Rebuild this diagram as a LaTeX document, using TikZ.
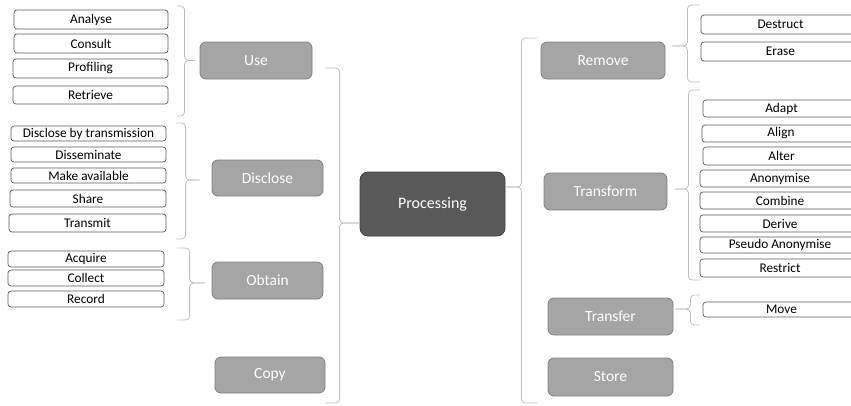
\documentclass[tikz,border=0pt]{standalone}
\usepackage{fontspec}
\setmainfont{Carlito}
\usetikzlibrary{calc}
\definecolor{catfill}{HTML}{A5A5A5}
\definecolor{catline}{HTML}{7F7F7F}
\definecolor{rootfill}{HTML}{595959}
\definecolor{rootline}{HTML}{404040}
\definecolor{leafline}{HTML}{595959}
\definecolor{braceline}{HTML}{BFBFBF}
\tikzset{
  leaf/.style={draw=leafline, fill=white, line width=0.7pt, rounded corners=3pt,
    inner sep=0pt, font=\fontsize{13.3}{15}\selectfont, text=black},
  cat/.style={draw=catline, fill=catfill, line width=0.8pt, rounded corners=6pt,
    inner sep=0pt, font=\fontsize{15.5}{18}\selectfont, text=white},
  root/.style={draw=rootline, fill=rootfill, line width=0.8pt, rounded corners=8pt,
    inner sep=0pt, font=\fontsize{16}{19}\selectfont, text=white},
  grp/.style={draw=braceline, line width=0.8pt, rounded corners=4pt},
}
% box at centre (#2) of size #3 x #4
\newcommand{\bx}[6]{\node[#1, minimum width=#4pt, minimum height=#5pt] (#2) at (#3) {#6};}
\begin{document}
\begin{tikzpicture}[x=1pt, y=-1pt]
\useasboundingbox (0,0) rectangle (851,405);
\clip (0,0) rectangle (851,405);

% central node
\bx{root}{proc}{432.5,204}{145}{64}{Processing}

% left categories
\bx{cat}{use}{256,60.5}{112}{37}{Use}
\bx{cat}{disclose}{267.5,178}{111}{36}{Disclose}
\bx{cat}{obtain}{267.5,280.5}{111}{37}{Obtain}
\bx{cat}{copy}{270,375}{110}{36}{Copy}

% right categories
\bx{cat}{remove}{603,60.5}{124}{37}{Remove}
\bx{cat}{transform}{605.5,191.5}{123}{37}{Transform}
\bx{cat}{transfer}{610.5,316.5}{125}{37}{Transfer}
\bx{cat}{store}{610.5,377}{125}{38}{Store}

% Use
\bx{leaf}{analyse}{91,19.5}{154}{19}{Analyse}
\bx{leaf}{consult}{91,43.5}{154}{19}{Consult}
\bx{leaf}{profiling}{90.5,68.5}{155}{19}{Profiling}
\bx{leaf}{retrieve}{90.5,95}{155}{18}{Retrieve}
% Disclose
\bx{leaf}{disclbt}{88.5,133.5}{155}{15}{Disclose by transmission}
\bx{leaf}{dissem}{88.5,154.5}{155}{15}{Disseminate}
\bx{leaf}{makeav}{88.5,175.5}{155}{15}{Make available}
\bx{leaf}{share}{88,198.5}{156}{17}{Share}
\bx{leaf}{transmit}{87.5,223}{157}{18}{Transmit}
% Obtain
\bx{leaf}{acquire}{86,259}{156}{16}{Acquire}
\bx{leaf}{collect}{86,278}{156}{16}{Collect}
\bx{leaf}{record}{86,299}{156}{16}{Record}

% Remove
\bx{leaf}{destruct}{780.5,24.5}{159}{19}{Destruct}
\bx{leaf}{erase}{780.5,51.5}{159}{19}{Erase}
% Transform
\bx{leaf}{adapt}{781.5,108.5}{157}{17}{Adapt}
\bx{leaf}{align}{781,133.5}{158}{17}{Align}
\bx{leaf}{alter}{781.5,156}{157}{18}{Alter}
\bx{leaf}{anonymise}{780,178.5}{160}{17}{Anonymise}
\bx{leaf}{combine}{780,200.5}{160}{17}{Combine}
\bx{leaf}{derive}{780,223.5}{160}{17}{Derive}
\bx{leaf}{pseudo}{780,245}{160}{16}{Pseudo Anonymise}
\bx{leaf}{restrict}{780,268}{160}{18}{Restrict}
% Transfer
\bx{leaf}{move}{781.5,309.5}{157}{15}{Move}

% group braces, left side (opening towards the leaves)
\draw[grp] ([shift={(-5,0)}]use.west) -- ++(-10,0) |- (177,6);
\draw[grp] ([shift={(-5,0)}]use.west) -- ++(-10,0) |- (177,116);
\draw[grp] ([shift={(-12,2)}]disclose.west) -- ++(-14,0) |- (176,123);
\draw[grp] ([shift={(-12,2)}]disclose.west) -- ++(-14,0) |- (176,239);
\draw[grp] ([shift={(-7,2.5)}]obtain.west) -- ++(-15,0) |- (177,248);
\draw[grp] ([shift={(-7,2.5)}]obtain.west) -- ++(-15,0) |- (177,320);
\draw[grp] ([shift={(0,19)}]proc.west) -- ++(-20,0) |- (325,68);
\draw[grp] ([shift={(0,19)}]proc.west) -- ++(-20,0) |- (325,403);

% group braces, right side
\draw[grp] ([shift={(0,-17)}]proc.east) -- ++(16,0) |- (537,38);
\draw[grp] ([shift={(0,-17)}]proc.east) -- ++(16,0) |- (537,403);
\draw[grp] ([shift={(7,-14.5)}]remove.east) -- ++(15,0) |- (700,5);
\draw[grp] ([shift={(7,-14.5)}]remove.east) -- ++(15,0) |- (700,82);
\draw[grp] ([shift={(8,-2.5)}]transform.east) -- ++(13,0) |- (700,90);
\draw[grp] ([shift={(8,-2.5)}]transform.east) -- ++(13,0) |- (700,280);
\draw[grp] ([shift={(2,-7.5)}]transfer.east) -- ++(15,0) |- (700,295);
\draw[grp] ([shift={(2,-7.5)}]transfer.east) -- ++(15,0) |- (700,325);
\end{tikzpicture}
\end{document}
